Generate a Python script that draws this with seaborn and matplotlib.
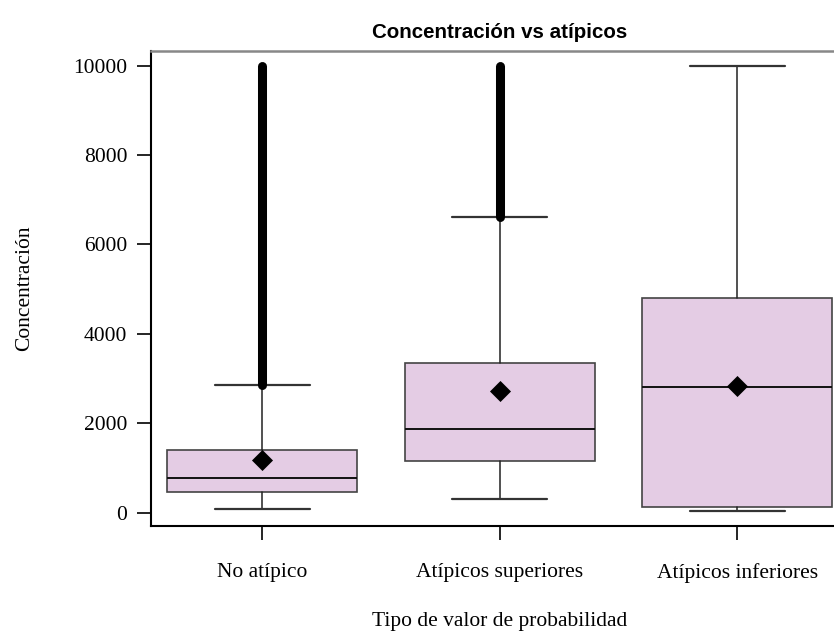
import numpy as np
import matplotlib
matplotlib.use("Agg")
import matplotlib.pyplot as plt
import seaborn as sns

# Box-plot summary per probability-value type
categorias = ["No atípico", "Atípicos superiores", "Atípicos inferiores"]
bigote_inf = [80, 305, 30]
cuartil_1 = [455, 1155, 130]
mediana = [775, 1880, 2820]
cuartil_3 = [1410, 3355, 4795]
bigote_sup = [2850, 6620, 10000]
media = [1180, 2720, 2830]
# Range covered by the (very dense) outlier points of each group
atipico_min = [2850, 6620, None]
atipico_max = [10000, 10000, None]
y_ticks = [0, 2000, 4000, 6000, 8000, 10000]

sns.set_theme(style="ticks")
plt.rcParams["font.family"] = ["Liberation Serif", "DejaVu Serif"]

fig = plt.figure(figsize=(8.34, 6.32), dpi=100)
ax = fig.add_axes([0.1811, 0.1682, 0.8365, 0.7516])

pos = np.arange(len(categorias))
stats = [
    dict(label=c, whislo=lo, q1=a, med=m, q3=b, whishi=hi, mean=mu, fliers=[])
    for c, lo, a, m, b, hi, mu in zip(categorias, bigote_inf, cuartil_1, mediana,
                                       cuartil_3, bigote_sup, media)
]
ax.bxp(stats, positions=pos, widths=0.8, capwidths=0.4, patch_artist=True,
       showmeans=False, showfliers=False,
       boxprops=dict(facecolor="#E4CCE4", edgecolor="#444444", linewidth=1.2),
       medianprops=dict(color="#111111", linewidth=1.4),
       whiskerprops=dict(color="#222222", linewidth=1.1),
       capprops=dict(color="#333333", linewidth=1.6))

# Outliers: thousands of overlapping circles form a solid rounded band
for p, lo, hi in zip(pos, atipico_min, atipico_max):
    if lo is None:
        continue
    ax.plot([p, p], [lo, hi], color="black", linewidth=6.5,
            solid_capstyle="round", zorder=4)

# Means as black diamonds
sns.scatterplot(x=pos, y=media, marker="D", s=115, color="black",
                edgecolor="black", linewidth=0, ax=ax, zorder=6, legend=False)

ax.set_xlim(-0.4687, 2.4687)
ax.set_ylim(-291, 10336)
ax.set_xticks(pos)
ax.set_xticklabels(categorias)
ax.set_yticks(y_ticks)
ax.set_yticklabels([str(t) for t in y_ticks])
ax.tick_params(axis="both", length=10, width=1.2, color="black",
               labelsize=15.5, labelcolor="black")
ax.tick_params(axis="y", pad=7)
ax.tick_params(axis="x", pad=17)

for side in ("left", "bottom"):
    ax.spines[side].set_color("black")
    ax.spines[side].set_linewidth(1.5)
ax.spines["top"].set_color("#888888")
ax.spines["top"].set_linewidth(1.8)
ax.spines["right"].set_visible(False)

ax.set_xlabel("Tipo de valor de probabilidad", fontsize=15.5, color="black")
ax.set_ylabel("Concentración", fontsize=15.5, color="black")
ax.xaxis.label.set_va("center")
ax.yaxis.label.set_va("center")
ax.xaxis.set_label_coords(0.5003, -0.2027)
ax.yaxis.set_label_coords(-0.181, 0.5)

ax.set_title("Concentración vs atípicos", fontfamily=["Liberation Sans", "DejaVu Sans"],
             fontweight="bold", fontsize=14.8, color="black", pad=9)

fig.savefig("out.png", dpi=100)
